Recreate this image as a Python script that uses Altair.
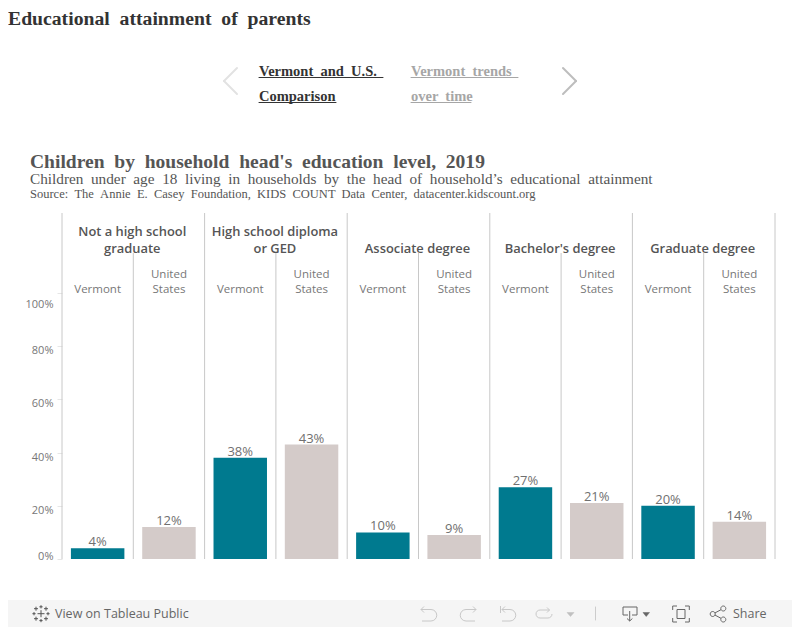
import altair as alt
import pandas as pd

groups = ["Not a high school\ngraduate", "High school diploma\nor GED", "Associate degree", "Bachelor's degree", "Graduate degree"]
vermont = [4, 38, 10, 27, 20]
us = [12, 43, 9, 21, 14]
ticks = [0, 20, 40, 60, 80, 100]

rows = []
for i, g in enumerate(groups):
    rows.append({"key": f"{i}V", "group": g, "region": "Vermont", "value": vermont[i], "first": True})
    rows.append({"key": f"{i}U", "group": g, "region": "United\nStates", "value": us[i], "first": False})
df = pd.DataFrame(rows)
order = list(df["key"])

OX, OY = 62, 213   # plot-area origin on the page
W, H = 713, 346
STEP = W / 10

xs = alt.Scale(domain=order, paddingInner=0.25, paddingOuter=0.125)
ys = alt.Scale(domain=[0, 130], nice=False)
X = alt.X("key:N", scale=xs, sort=order, axis=None)
one = alt.Data(values=[{"a": 1}])
G = " \u00a0"  # the wide word gap of the serif headings


def px(v):
    return alt.value(v - OX)


def py(v):
    return alt.value(v - OY)


def label(t, x, y, size, color, font, weight="normal", align="left"):
    return alt.Chart(one).mark_text(font=font, fontSize=size, fontWeight=weight, color=color,
                                    align=align, baseline="alphabetic").encode(
        x=px(x), y=py(y), text=alt.value(t.replace("  ", G)))


def seg(x1, y1, x2, y2, color, w=1.0):
    return alt.Chart(one).mark_rule(color=color, strokeWidth=w, strokeCap="round").encode(
        x=px(x1), y=py(y1), x2=px(x2), y2=py(y2))


def icon(path, color, w=1.0, filled=False):
    # size 4 makes one path unit one pixel, so the path is in page pixels
    return alt.Chart(one).mark_point(shape=path, size=4, stroke=color, strokeWidth=w, opacity=1,
                                     filled=filled, fill=color if filled else "transparent").encode(
        x=px(0), y=py(0))


def cross(cx, cy, r):
    return f"M{cx-r},{cy}L{cx+r},{cy}M{cx},{cy-r}L{cx},{cy+r}"


def circle(cx, cy, r):
    return f"M{cx-r},{cy}A{r},{r} 0 1 1 {cx+r},{cy}A{r},{r} 0 1 1 {cx-r},{cy}Z"


SERIF = "Liberation Serif"
SANS = "Open Sans"

bars = alt.Chart(df).mark_bar().encode(
    x=X,
    y=alt.Y("value:Q", scale=ys, axis=alt.Axis(
        values=ticks, title=None, format="d", labelExpr="datum.value + '%'", grid=False,
        domain=False, tickColor="#e6e6e6", tickSize=5, labelPadding=4, labelFont=SANS, labelFontSize=11,
        labelColor="#777777", labelBaseline="middle",
        labelOffset=alt.expr("datum.value == 0 ? -3 : datum.value == 100 ? 12 : 4.5"))),
    color=alt.Color("first:N", scale=alt.Scale(domain=[True, False], range=["#007a8f", "#d4cbc9"]), legend=None),
)
values = alt.Chart(df).transform_calculate(lab="datum.value + '%'").mark_text(
    font=SANS, fontSize=13, color="#707070", baseline="bottom", dy=1).encode(
    x=X, y=alt.Y("value:Q", scale=ys), text="lab:N")

minor = alt.Chart(df[df["first"]]).mark_rule(color="#c8c8c8", xOffset=STEP / 2).encode(
    x=X, y=py(253), y2=py(559))
major = alt.Chart(df[df["first"]]).mark_rule(color="#c8c8c8", xOffset=-STEP / 2).encode(
    x=X, y=py(213), y2=py(559))
major_end = alt.Chart(df[df["key"] == order[-1]]).mark_rule(color="#c8c8c8", xOffset=STEP / 2).encode(
    x=X, y=py(213), y2=py(559))

heads = alt.Chart(df[df["first"]]).transform_calculate(
    two="indexof(datum.group, '\\n') >= 0"
).transform_filter("datum.two").mark_text(
    font=SANS, fontSize=12.9, fontWeight=600, color="#555555", lineBreak="\n", lineHeight=17,
    dx=STEP / 2 - 1, baseline="alphabetic").encode(x=X, y=py(236), text="group:N")
heads1 = alt.Chart(df[df["first"]]).transform_calculate(
    two="indexof(datum.group, '\\n') >= 0"
).transform_filter("!datum.two").mark_text(
    font=SANS, fontSize=12.9, fontWeight=600, color="#555555",
    dx=STEP / 2 - 1, baseline="alphabetic").encode(x=X, y=py(253), text="group:N")
sub_v = alt.Chart(df[df["first"]]).mark_text(font=SANS, fontSize=11.5, color="#777777", baseline="alphabetic").encode(
    x=X, y=py(293), text="region:N")
sub_u = alt.Chart(df[~df["first"]]).mark_text(font=SANS, fontSize=11.5, color="#777777", baseline="alphabetic",
                                              lineBreak="\n", lineHeight=15).encode(
    x=X, y=py(278), text="region:N")

chrome = [
    label("Educational  attainment  of  parents", 8, 25, 19.7, "#333333", SERIF, "bold"),
    label("Vermont  and  U.S.", 259, 76, 14.5, "#333333", SERIF, "bold"),
    label("Comparison", 259, 101, 14.5, "#333333", SERIF, "bold"),
    label("Vermont  trends", 411, 76, 14.5, "#a6a6a6", SERIF, "bold"),
    label("over  time", 411, 101, 14.5, "#a6a6a6", SERIF, "bold"),
    seg(259, 77.5, 383, 77.5, "#333333"), seg(259, 102.5, 336, 102.5, "#333333"),
    seg(411, 77.5, 518, 77.5, "#a6a6a6"), seg(411, 102.5, 471, 102.5, "#a6a6a6"),
    seg(237, 68, 224, 81, "#e2e2e2", 2), seg(224, 81, 237, 94, "#e2e2e2", 2),
    seg(563, 68, 576, 81, "#bdbdbd", 2), seg(576, 81, 563, 94, "#bdbdbd", 2),
    label("Children  by  household  head's  education  level,  2019", 30, 168, 19.55, "#555555", SERIF, "bold"),
    label("Children  under  age  18  living  in  households  by  the  head  of  household’s  educational  attainment", 30, 184, 15.25, "#555555", SERIF),
    label("Source:  The  Annie  E.  Casey  Foundation,  KIDS  COUNT  Data  Center,  datacenter.kidscount.org", 30, 198, 12.5, "#555555", SERIF),
]

LOGO = (cross(41, 613.7, 3.5) + cross(41, 606.8, 1.6) + cross(41, 620.6, 1.6) + cross(34, 613.7, 1.6)
        + cross(48, 613.7, 1.6) + cross(36, 608.7, 2) + cross(46, 608.7, 2) + cross(36, 618.7, 2) + cross(46, 618.7, 2))
UNDO = "M424,606.5L421,609.5L424,612.5M421,609.5L431,609.5A5.75,5.75 0 0 1 431,621L422,621"
REDO = "M473,606.5L476,609.5L473,612.5M476,609.5L466,609.5A5.75,5.75 0 0 0 466,621L475,621"
REVERT = "M500.5,606L500.5,613M505,606.5L502,609.5L505,612.5M502,609.5L510,609.5A5.75,5.75 0 0 1 510,621L502,621"
REFRESH = "M547,607.5L549.5,610L547,612.5M549.5,610L540,610A4,4 0 0 0 540,618L548,618A4,4 0 0 0 552,614"
TRI_LIGHT = "M567,612.5L574,612.5L570.5,616.5Z"
DOWNLOAD = ("M628,615L623,615L623,607L637,607L637,615L632,615M629.7,611L629.7,621"
            "M627,618.5L629.7,621L632.4,618.5")
TRI_DARK = "M643,612.5L649.5,612.5L646.2,616.5Z"
FULL = ("M672.7,610L672.7,606L677,606M685,606L689.3,606L689.3,610M689.3,618L689.3,622L685,622"
        "M677,622L672.7,622L672.7,618M677,609.5L685,609.5L685,618.5L677,618.5Z")
SHARE = (circle(712.7, 614, 2.5) + circle(723.3, 608.5, 2.5) + circle(723.3, 619.5, 2.5)
         + "M715,612.9L721,609.7M715,615.1L721,618.3")

footer = [
    alt.Chart(one).mark_rect(color="#f5f5f5").encode(x=px(0), x2=px(800), y=py(600), y2=py(627)),
    label("View on Tableau Public", 55, 618, 12.5, "#666666", SANS),
    label("Share", 733, 618, 12.5, "#666666", SANS),
    icon(LOGO, "#555555", 1),
    icon(UNDO, "#c8c8c8", 1), icon(REDO, "#c8c8c8", 1), icon(REVERT, "#c8c8c8", 1), icon(REFRESH, "#c8c8c8", 1),
    icon(TRI_LIGHT, "#c0c0c0", 0.5, True),
    seg(595.5, 607, 595.5, 620, "#cccccc"),
    icon(DOWNLOAD, "#666666", 1), icon(TRI_DARK, "#666666", 0.5, True),
    icon(FULL, "#666666", 1), icon(SHARE, "#666666", 1),
]

chart = alt.layer(*chrome, *footer, major, minor, major_end, bars, values, heads, heads1, sub_v, sub_u).properties(
    width=W, height=H,
    padding={"left": OX - 8, "top": OY - 8, "right": 800 - 16 - (OX - 8) - W, "bottom": 627 - 8 - (OY - 8) - H},
    autosize=alt.AutoSizeParams(type="none"),
).configure_view(stroke=None)

chart.save("out.html", embed_options={"renderer": "svg", "actions": False})
